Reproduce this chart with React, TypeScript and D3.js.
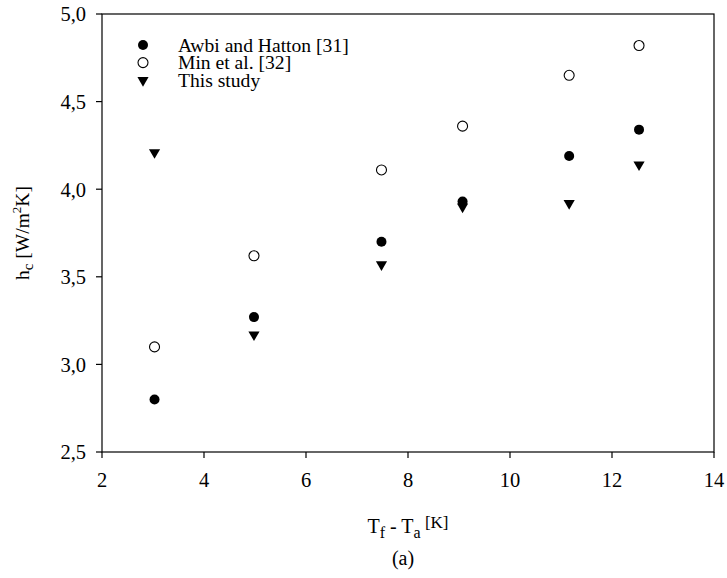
import React from "react";
import * as d3 from "d3";

const xValues = [3.03, 4.98, 7.48, 9.07, 11.16, 12.53];
const awbiHatton = [2.8, 3.27, 3.7, 3.93, 4.19, 4.34];
const minEtAl = [3.1, 3.62, 4.11, 4.36, 4.65, 4.82];
const thisStudy = [4.21, 3.17, 3.57, 3.9, 3.92, 4.14];
const xTicks = [2, 4, 6, 8, 10, 12, 14];
const yTicks = [2.5, 3.0, 3.5, 4.0, 4.5, 5.0];
const legendLabels = ["Awbi and Hatton [31]", "Min et al. [32]", "This study"];

const W = 727;
const H = 578;
const FONT = "'Liberation Serif', 'Times New Roman', serif";

export default function App() {
  const x = d3.scaleLinear().domain([2, 14]).range([102, 714]);
  const y = d3.scaleLinear().domain([2.5, 5.0]).range([452, 14]);
  const fmt = (v: number) => d3.format(".1f")(v).replace(".", ",");
  const circlePath = d3.symbol().type(d3.symbolCircle).size(Math.PI * 25)()!;
  const triPath = d3.symbol().type(d3.symbolTriangle).size(54)()!;

  const kinds = ["filled", "open", "tri"];
  const renderSym = (kind: string, cx: number, cy: number, key: string) => {
    if (kind === "tri")
      return <path key={key} d={triPath} transform={`translate(${cx},${cy}) rotate(180)`} fill="#000" />;
    if (kind === "open")
      return <path key={key} d={circlePath} transform={`translate(${cx},${cy})`} fill="#fff" stroke="#000" strokeWidth={1.1} />;
    return <path key={key} d={circlePath} transform={`translate(${cx},${cy})`} fill="#000" />;
  };

  const series = [awbiHatton, minEtAl, thisStudy];

  return (
    <svg width={W} height={H} style={{ position: "absolute", left: 0, top: 0, background: "#fff" }} fontFamily={FONT}>
      <rect x={0} y={0} width={W} height={H} fill="#fff" />
      {/* frame */}
      <rect x={x(2)} y={y(5)} width={x(14) - x(2)} height={y(2.5) - y(5)} fill="none" stroke="#000" strokeWidth={1.2} />
      {/* y ticks */}
      {yTicks.map((t) => (
        <g key={"y" + t}>
          <line x1={x(2) - 6} x2={x(2)} y1={y(t)} y2={y(t)} stroke="#000" strokeWidth={1.2} />
          <text x={86} y={y(t)} dy="0.36em" textAnchor="end" fontSize={20.5}>{fmt(t)}</text>
        </g>
      ))}
      {/* x ticks */}
      {xTicks.map((t) => (
        <g key={"x" + t}>
          <line x1={x(t)} x2={x(t)} y1={y(2.5)} y2={y(2.5) + 6} stroke="#000" strokeWidth={1.2} />
          <text x={x(t)} y={487} textAnchor="middle" fontSize={20.5}>{t}</text>
        </g>
      ))}
      {/* data */}
      {series.map((s, si) =>
        s.map((v, i) => renderSym(kinds[si], x(xValues[i]), y(v), `p${si}-${i}`))
      )}
      {/* legend */}
      {legendLabels.map((lab, i) => (
        <g key={"l" + i}>
          {renderSym(kinds[i], 143, 45 + i * 17.6, "ls" + i)}
          <text x={178} y={45 + i * 17.6} dy="0.35em" fontSize={19.6}>{lab}</text>
        </g>
      ))}
      {/* x title */}
      <text x={408} y={533} textAnchor="middle" fontSize={20}>
        <tspan>T</tspan>
        <tspan fontSize={16} dy={5}>f</tspan>
        <tspan dy={-5}>{" - T"}</tspan>
        <tspan fontSize={16} dy={5}>a</tspan>
        <tspan fontSize={17} dy={-10}>{" [K]"}</tspan>
      </text>
      <text x={403} y={565} textAnchor="middle" fontSize={20}>(a)</text>
      {/* y title */}
      <text transform={`translate(29,${233}) rotate(-90)`} textAnchor="middle" fontSize={19.5}>
        <tspan>h</tspan>
        <tspan fontSize={15} dy={4}>c</tspan>
        <tspan dy={-4}>{" [W/m"}</tspan>
        <tspan fontSize={13} dy={-8}>2</tspan>
        <tspan dy={8}>K]</tspan>
      </text>
    </svg>
  );
}
